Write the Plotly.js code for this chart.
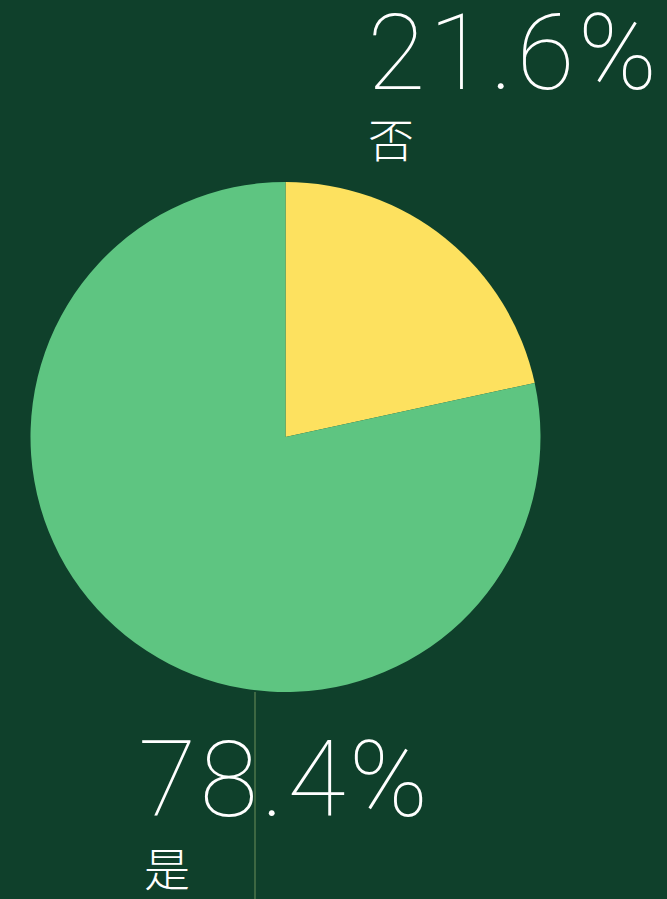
<!DOCTYPE html>
<html>
<head>
<meta charset="utf-8">
<script src="https://cdn.plot.ly/plotly-3.0.1.min.js"></script>
<style>
html,body{margin:0;padding:0;background:#0f402b;}
#chart{width:667px;height:899px;}
.bigpct text.annotation-text{letter-spacing:3.5px;}
</style>
</head>
<body>
<div id="chart"></div>
<script>
const labels = ['否', '是'];
const values = [21.6, 78.4];
const colors = ['#fde15f', '#5ec581'];

const pctText = values.map(v => v.toFixed(1) + '%');
const W = 667, H = 899;
const px = x => x / W;
const py = y => 1 - y / H;

// label placements (pixel positions in the reference)
const labelPos = [
  {pctX: 374, pctY: 53, catX: 366, catY: 137},
  {pctX: 145, pctY: 780, catX: 142, catY: 866}
];

const annotations = [];
labels.forEach((lab, i) => {
  const p = labelPos[i];
  annotations.push({
    x: px(p.pctX), y: py(p.pctY), xref: 'paper', yref: 'paper',
    xanchor: 'left', yanchor: 'middle', showarrow: false,
    text: pctText[i],
    font: {family: 'Roboto, Lato, sans-serif', size: 106, color: '#ffffff', weight: 100}
  });
  annotations.push({
    x: px(p.catX), y: py(p.catY), xref: 'paper', yref: 'paper',
    xanchor: 'left', yanchor: 'middle', showarrow: false,
    text: lab,
    font: {family: '"Noto Sans CJK SC", sans-serif', size: 46, color: '#ffffff', weight: 300}
  });
});

const data = [{
  type: 'pie',
  labels: labels,
  values: values,
  marker: {colors: colors, line: {width: 0}},
  sort: false,
  direction: 'clockwise',
  rotation: 0,
  textinfo: 'none',
  hoverinfo: 'none',
  showlegend: false,
  domain: {x: [px(30), px(541)], y: [py(692), py(182)]}
}];

const layout = {
  width: W, height: H,
  margin: {l: 0, r: 0, t: 0, b: 0},
  paper_bgcolor: '#0f402b',
  plot_bgcolor: '#0f402b',
  showlegend: false,
  annotations: annotations,
  shapes: [{
    type: 'line', xref: 'paper', yref: 'paper',
    x0: px(255), x1: px(255), y0: 0, y1: py(692),
    line: {color: 'rgba(130,160,100,0.55)', width: 1.5},
    layer: 'below'
  }]
};

Plotly.newPlot('chart', data, layout, {displayModeBar: false, staticPlot: true}).then(gd => {
  const anns = gd.querySelectorAll('.annotation');
  anns.forEach((a, i) => { if (i % 2 === 0) a.classList.add('bigpct'); });
});
</script>
</body>
</html>
